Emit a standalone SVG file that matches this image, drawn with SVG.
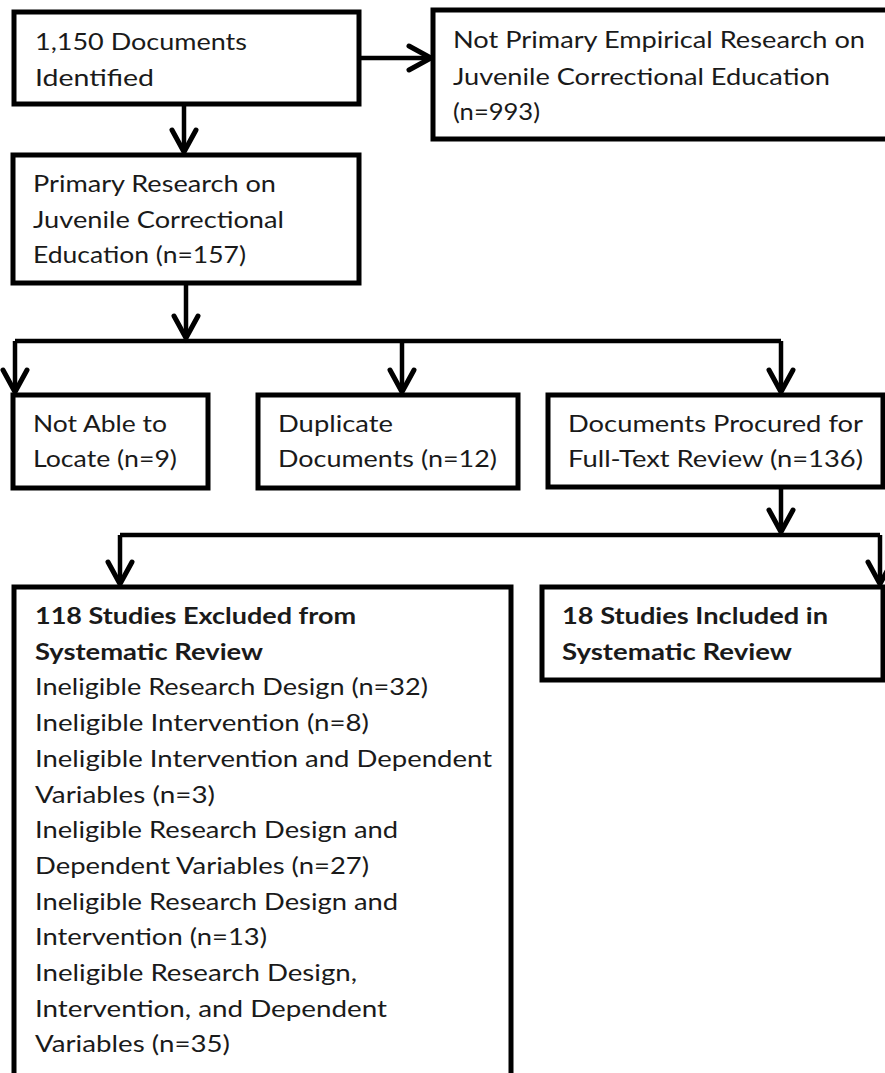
<svg xmlns="http://www.w3.org/2000/svg" width="885" height="1073" viewBox="0 0 885 1073">
<style>
.box{fill:#fff;stroke:#000;stroke-width:5}
.t{font-family:Lato,"Noto Sans",sans-serif;font-size:23px;fill:#1a1a1a}
.b{font-weight:bold}
.c{fill:none;stroke:#000;stroke-width:4.5}
</style>
<defs>
<marker id="ah" markerUnits="userSpaceOnUse" markerWidth="40" markerHeight="40" viewBox="-30 -20 40 40" refX="0" refY="0" orient="auto" overflow="visible">
<path d="M-22,-12 L0,0 L-22,12" fill="none" stroke="#000" stroke-width="5" stroke-linecap="round"/>
</marker>
</defs>
<rect width="885" height="1073" fill="#fff"/>
<g id="connectors">
<path class="c" d="M359,58 H431" marker-end="url(#ah)"/>
<path class="c" d="M184,104 V152" marker-end="url(#ah)"/>
<path class="c" d="M186,283 V338" marker-end="url(#ah)"/>
<path class="c" d="M15,341 H781"/>
<path class="c" d="M15,341 V392" marker-end="url(#ah)"/>
<path class="c" d="M402,341 V392" marker-end="url(#ah)"/>
<path class="c" d="M781,341 V392" marker-end="url(#ah)"/>
<path class="c" d="M781,487 V532" marker-end="url(#ah)"/>
<path class="c" d="M120,535 H880"/>
<path class="c" d="M120,535 V584" marker-end="url(#ah)"/>
<path class="c" d="M880,535 V584" marker-end="url(#ah)"/>
</g>
<g id="identified">
<rect class="box" x="14" y="12" width="345" height="92"/>
<text class="t" x="35" y="50" textLength="212" lengthAdjust="spacingAndGlyphs">1,150 Documents</text>
<text class="t" x="35" y="86" textLength="119" lengthAdjust="spacingAndGlyphs">Identified</text>
</g>
<g id="not-primary">
<rect class="box" x="433" y="10" width="460" height="129"/>
<text class="t" x="453" y="48" textLength="412" lengthAdjust="spacingAndGlyphs">Not Primary Empirical Research on</text>
<text class="t" x="453" y="85" textLength="377" lengthAdjust="spacingAndGlyphs">Juvenile Correctional Education</text>
<text class="t" x="453" y="120" textLength="87" lengthAdjust="spacingAndGlyphs">(n=993)</text>
</g>
<g id="primary">
<rect class="box" x="13" y="155" width="346" height="128"/>
<text class="t" x="33" y="192" textLength="243" lengthAdjust="spacingAndGlyphs">Primary Research on</text>
<text class="t" x="33" y="228" textLength="251" lengthAdjust="spacingAndGlyphs">Juvenile Correctional</text>
<text class="t" x="33" y="263" textLength="213" lengthAdjust="spacingAndGlyphs">Education (n=157)</text>
</g>
<g id="not-able">
<rect class="box" x="13" y="395" width="195" height="93"/>
<text class="t" x="33" y="432" textLength="134" lengthAdjust="spacingAndGlyphs">Not Able to</text>
<text class="t" x="33" y="467" textLength="144" lengthAdjust="spacingAndGlyphs">Locate (n=9)</text>
</g>
<g id="duplicate">
<rect class="box" x="258" y="395" width="260" height="93"/>
<text class="t" x="278" y="432" textLength="115" lengthAdjust="spacingAndGlyphs">Duplicate</text>
<text class="t" x="278" y="467" textLength="219" lengthAdjust="spacingAndGlyphs">Documents (n=12)</text>
</g>
<g id="procured">
<rect class="box" x="548" y="395" width="335" height="92"/>
<text class="t" x="568" y="432" textLength="295" lengthAdjust="spacingAndGlyphs">Documents Procured for</text>
<text class="t" x="568" y="467" textLength="295" lengthAdjust="spacingAndGlyphs">Full-Text Review (n=136)</text>
</g>
<g id="excluded">
<rect class="box" x="14" y="587" width="497" height="500"/>
<text class="t b" x="35" y="624" textLength="321" lengthAdjust="spacingAndGlyphs">118 Studies Excluded from</text>
<text class="t b" x="35" y="659.7" textLength="228" lengthAdjust="spacingAndGlyphs">Systematic Review</text>
<text class="t" x="35" y="695.4" textLength="393" lengthAdjust="spacingAndGlyphs">Ineligible Research Design (n=32)</text>
<text class="t" x="35" y="731.1" textLength="334" lengthAdjust="spacingAndGlyphs">Ineligible Intervention (n=8)</text>
<text class="t" x="35" y="766.8" textLength="457" lengthAdjust="spacingAndGlyphs">Ineligible Intervention and Dependent</text>
<text class="t" x="35" y="802.5" textLength="180" lengthAdjust="spacingAndGlyphs">Variables (n=3)</text>
<text class="t" x="35" y="838.2" textLength="363" lengthAdjust="spacingAndGlyphs">Ineligible Research Design and</text>
<text class="t" x="35" y="873.9" textLength="334" lengthAdjust="spacingAndGlyphs">Dependent Variables (n=27)</text>
<text class="t" x="35" y="909.6" textLength="363" lengthAdjust="spacingAndGlyphs">Ineligible Research Design and</text>
<text class="t" x="35" y="945.3" textLength="232" lengthAdjust="spacingAndGlyphs">Intervention (n=13)</text>
<text class="t" x="35" y="981" textLength="322" lengthAdjust="spacingAndGlyphs">Ineligible Research Design,</text>
<text class="t" x="35" y="1016.7" textLength="352" lengthAdjust="spacingAndGlyphs">Intervention, and Dependent</text>
<text class="t" x="35" y="1052.4" textLength="195" lengthAdjust="spacingAndGlyphs">Variables (n=35)</text>
</g>
<g id="included">
<rect class="box" x="542" y="587" width="341" height="93"/>
<text class="t b" x="562" y="624" textLength="266" lengthAdjust="spacingAndGlyphs">18 Studies Included in</text>
<text class="t b" x="562" y="659.7" textLength="230" lengthAdjust="spacingAndGlyphs">Systematic Review</text>
</g>
</svg>
